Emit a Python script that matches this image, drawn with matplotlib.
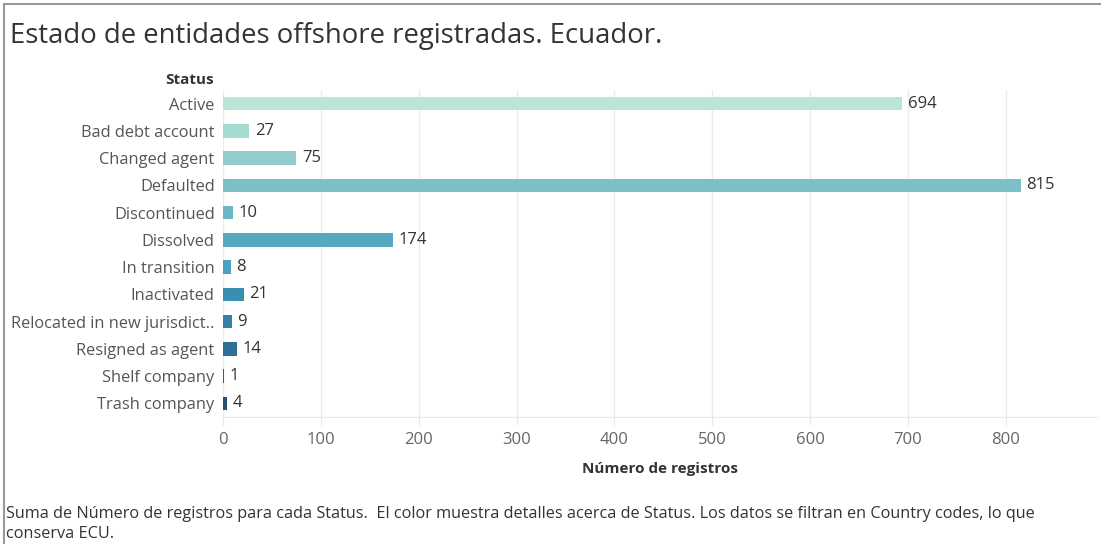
import matplotlib
matplotlib.use("Agg")
import matplotlib.pyplot as plt
from matplotlib.lines import Line2D

plt.rcParams['font.family'] = ['Open Sans', 'DejaVu Sans']

# data
statuses = ["Active", "Bad debt account", "Changed agent", "Defaulted",
            "Discontinued", "Dissolved", "In transition", "Inactivated",
            "Relocated in new jurisdict..", "Resigned as agent",
            "Shelf company", "Trash company"]
counts = [694, 27, 75, 815, 10, 174, 8, 21, 9, 14, 1, 4]
colors = ["#bde4d9", "#a6dbd1", "#93cccc", "#7dbfc7", "#6bb8c4", "#55a8bd",
          "#4aa2c0", "#3a8fb0", "#3580a6", "#2e6f98", "#2a5f8a", "#24507a"]
ticks = [0, 100, 200, 300, 400, 500, 600, 700, 800]

title = "Estado de entidades offshore registradas. Ecuador."
footnote = ("Suma de Número de registros para cada Status.  El color muestra detalles acerca de "
            "Status. Los datos se filtran en Country codes, lo que\nconserva ECU.")

W, H = 1101, 544
fig = plt.figure(figsize=(W / 100, H / 100), dpi=100)
fig.patch.set_facecolor("white")

ax = fig.add_axes([223 / W, 1 - 417 / H, (1098 - 223) / W, (417 - 90) / H])
ypos = list(range(len(statuses)))
ax.barh(ypos, counts, height=0.5, color=colors, zorder=3)
ax.set_ylim(len(statuses) - 0.5, -0.5)
ax.set_xlim(0, 894)

for y, v in zip(ypos, counts):
    ax.annotate(str(v), (v, y), xytext=(4, 0), textcoords="offset points",
                va="center", ha="left", fontsize=12, color="#333333")

ax.set_yticks(ypos)
ax.set_yticklabels(statuses, fontsize=11.8, color="#555555")
ax.set_xticks(ticks)
ax.set_xticklabels([str(t) for t in ticks], fontsize=12, color="#666666")
ax.tick_params(axis="y", length=0, pad=6)
ax.tick_params(axis="x", length=6, color="#e8e8e8", pad=5)
ax.grid(axis="x", color="#ebebeb", linewidth=1, zorder=0)
for s in ["top", "right", "left"]:
    ax.spines[s].set_visible(False)
ax.spines["bottom"].set_color("#e8e8e8")
ax.set_xlabel("Número de registros", fontsize=11, fontweight="bold",
              color="#333333", labelpad=10)

fig.text(214 / W, 1 - 80 / H, "Status", ha="right", va="center",
         fontsize=11, fontweight="bold", color="#333333")
fig.text(10 / W, 1 - 36 / H, title, ha="left", va="center",
         fontsize=19.8, color="#333333")
fig.text(6 / W, 1 - 524 / H, footnote, ha="left", va="center",
         fontsize=11.7, color="#333333", linespacing=1.3)

# frame lines like the dashboard border
fig.add_artist(Line2D([4 / W, 1], [1 - 4 / H, 1 - 4 / H], color="#999999", lw=1.5))
fig.add_artist(Line2D([4 / W, 4 / W], [0, 1 - 4 / H], color="#999999", lw=1.5))

fig.savefig("out.png", dpi=100)
